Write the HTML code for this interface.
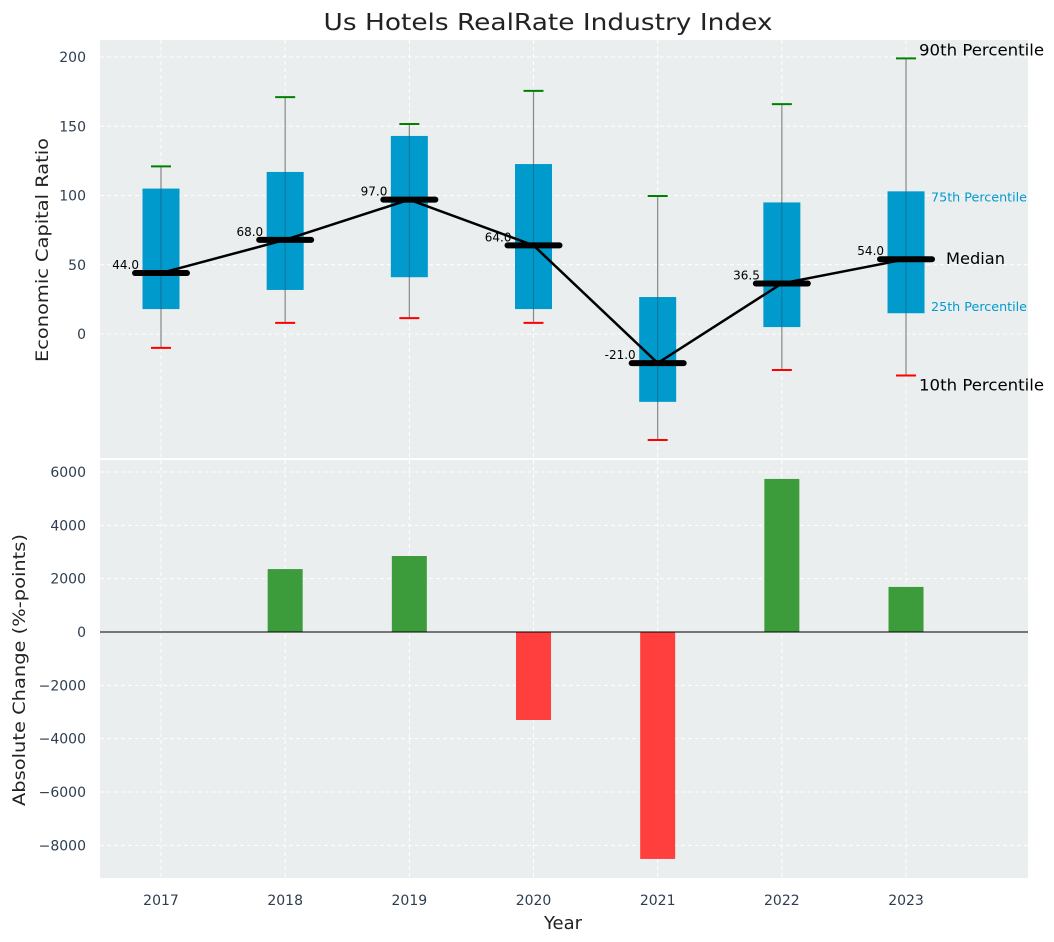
<!DOCTYPE html>
<html><head><meta charset="utf-8"><style>
body{margin:0;background:#fff;}
svg{display:block;font-family:"DejaVu Sans","Liberation Sans",sans-serif;}
</style></head><body>
<svg id="chart" width="1054" height="942"></svg>
<script>
const years=[2017,2018,2019,2020,2021,2022,2023];
const p10=[-10,8,11.5,8,-76.5,-26,-30];
const p25=[18,31.8,41,18,-49,5,15];
const med=[44,68,97,64,-21,36.5,54];
const p75=[105,117,143,122.7,26.7,95,103];
const p90=[121,171,151.6,175.5,99.6,166,199];
const changes=[0,2360,2850,-3300,-8510,5740,1690];
const topTicks=[0,50,100,150,200];
const botTicks=[-8000,-6000,-4000,-2000,0,2000,4000,6000];

const NS="http://www.w3.org/2000/svg";
const svg=document.getElementById('chart');
function el(t,a,txt){const e=document.createElementNS(NS,t);for(const k in a)e.setAttribute(k,a[k]);if(txt!==undefined)e.textContent=txt;svg.appendChild(e);return e;}
const X0=100,X1=1028;
const x=v=>161+(v-2017)*124.17;
const yT=v=>334-v*1.385;
const yB=v=>632-v*0.026667;

let e;
e=el('rect',{x:X0,y:40,width:X1-X0,height:418,fill:'#eaeeee'});

e=el('rect',{x:X0,y:460,width:X1-X0,height:418,fill:'#eaeeee'});


years.forEach(yr=>{
  el('line',{x1:x(yr),x2:x(yr),y1:40,y2:458,stroke:'#fff','stroke-dasharray':'4,3'});
  el('line',{x1:x(yr),x2:x(yr),y1:460,y2:878,stroke:'#fff','stroke-dasharray':'4,3'});
});
topTicks.forEach(t=>{
  el('line',{x1:X0,x2:X1,y1:yT(t),y2:yT(t),stroke:'#fff','stroke-dasharray':'4,3'});
  e=el('text',{x:86,y:yT(t)+5,'text-anchor':'end','font-size':14,fill:'#2d3e50'},String(t));
  
});
botTicks.forEach(t=>{
  el('line',{x1:X0,x2:X1,y1:yB(t),y2:yB(t),stroke:'#fff','stroke-dasharray':'4,3'});
  e=el('text',{x:86,y:yB(t)+5,'text-anchor':'end','font-size':14,fill:'#2d3e50'},String(t).replace('-','−'));
  
});
years.forEach(yr=>{
  e=el('text',{x:x(yr),y:905,'text-anchor':'middle','font-size':14,fill:'#2d3e50'},String(yr));
  
});

years.forEach((yr,i)=>{
  const cx=x(yr);
  el('line',{x1:cx,x2:cx,y1:yT(p90[i]),y2:yT(p10[i]),stroke:'#888','stroke-width':1.2});
  e=el('rect',{x:cx-18.5,y:yT(p75[i]),width:37,height:yT(p25[i])-yT(p75[i]),fill:'#009acd'});
  
  el('line',{x1:cx,x2:cx,y1:yT(p75[i]),y2:yT(p25[i]),stroke:'#1a5a70','stroke-width':1,opacity:0.6});
  el('line',{x1:cx-10,x2:cx+10,y1:yT(p90[i]),y2:yT(p90[i]),stroke:'green','stroke-width':2});
  el('line',{x1:cx-10,x2:cx+10,y1:yT(p10[i]),y2:yT(p10[i]),stroke:'red','stroke-width':2});
});
e=el('polyline',{points:years.map((yr,i)=>x(yr)+','+yT(med[i])).join(' '),fill:'none',stroke:'#000','stroke-width':2.5});

years.forEach((yr,i)=>{
  const cx=x(yr);
  e=el('line',{x1:cx-26,x2:cx+26,y1:yT(med[i]),y2:yT(med[i]),stroke:'#000','stroke-width':6,'stroke-linecap':'round'});
  
  e=el('text',{x:cx-22,y:yT(med[i])-4,'text-anchor':'end','font-size':12,fill:'#000'},med[i].toFixed(1));
  
});
const L=6,lx=x(2023);
[['90th Percentile',lx+13,yT(p90[L])-3,16,'#000',125],['10th Percentile',lx+13,yT(p10[L])+15,16,'#000',125],
 ['Median',lx+40,yT(med[L])+5,16,'#000',59],['75th Percentile',lx+25,yT(p75[L])+10,12,'#009acd',96],['25th Percentile',lx+25,yT(p25[L])-2,12,'#009acd',96]].forEach(a=>{
  e=el('text',{x:a[1],y:a[2],'font-size':a[3],fill:a[4],textLength:a[5],lengthAdjust:'spacingAndGlyphs'},a[0]);
  
});

years.forEach((yr,i)=>{
  const v=changes[i]; if(v===0)return;
  const y1=yB(Math.max(v,0)),y2=yB(Math.min(v,0));
  e=el('rect',{x:x(yr)-17.5,y:y1,width:35,height:y2-y1,fill:v>=0?'#3c9c3c':'#ff3e3e'});
  
});
el('line',{x1:X0,x2:X1,y1:yB(0),y2:yB(0),stroke:'#000','stroke-width':1});

e=el('text',{x:548,y:30,'text-anchor':'middle','font-size':23,fill:'#222',textLength:449,lengthAdjust:'spacingAndGlyphs'},'Us Hotels RealRate Industry Index');

e=el('text',{x:563,y:929,'text-anchor':'middle','font-size':18,fill:'#222'},'Year');

e=el('text',{x:48,y:250,'text-anchor':'middle','font-size':17,fill:'#222',transform:'rotate(-90 48 250)',textLength:224,lengthAdjust:'spacingAndGlyphs'},'Economic Capital Ratio');

e=el('text',{x:25,y:670,'text-anchor':'middle','font-size':17,fill:'#222',transform:'rotate(-90 25 670)',textLength:272,lengthAdjust:'spacingAndGlyphs'},'Absolute Change (%-points)');

</script>
</body></html>
